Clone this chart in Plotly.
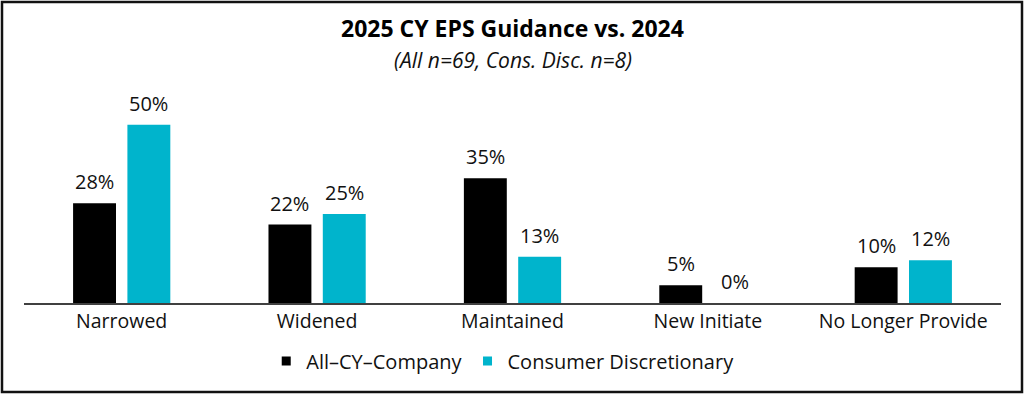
import plotly.graph_objects as go

categories = ["Narrowed", "Widened", "Maintained", "New Initiate", "No Longer Provide"]
all_cy = [28, 22, 35, 5, 10]
cons_disc = [50, 25, 13, 0, 12]
series_names = ["All–CY–Company", "Consumer Discretionary"]
series_colors = ["#000000", "#00B4CC"]
title_text = "<b>2025 CY EPS Guidance vs. 2024</b>"
subtitle_text = "<i>(All n=69, Cons. Disc. n=8)</i>"

W, H = 1024, 394
ML, MR, MT, MB = 24, 23, 107, 91
FONT = "'Open Sans', sans-serif"
pw = W - ML - MR
ph = H - MT - MB
BARGAP = 0.444
cat_px = pw / len(categories)
slot_px = cat_px * (1 - BARGAP) / 2

def py(px_from_top):
    return (H - MB - px_from_top) / ph

fig = go.Figure()
annotations = []
for i, (name, vals, col) in enumerate(zip(series_names, [all_cy, cons_disc], series_colors)):
    fig.add_trace(go.Bar(
        x=categories, y=vals, name=name, showlegend=False,
        marker=dict(color=col, line=dict(width=0)),
    ))
    xs = (i - 0.5) * slot_px
    for c, v in zip(categories, vals):
        annotations.append(dict(
            x=c, y=v, xref="x", yref="y", text=f"{v}%", showarrow=False,
            xanchor="center", yanchor="bottom", xshift=xs, yshift=6,
            font=dict(size=20, color="#111111"),
        ))
# legend entries with small square markers
for name, col in zip(series_names, series_colors):
    fig.add_trace(go.Scatter(
        x=[None], y=[None], mode="markers", name=name,
        marker=dict(symbol="square", size=9, color=col),
    ))

annotations += [
    dict(text=title_text, xref="paper", yref="paper", x=0.5, y=py(28),
         xanchor="center", yanchor="middle", showarrow=False,
         font=dict(size=23, color="#000000")),
    dict(text=subtitle_text, xref="paper", yref="paper", x=0.5, y=py(60),
         xanchor="center", yanchor="middle", showarrow=False,
         font=dict(size=21, color="#111111")),
]

fig.update_layout(
    width=W, height=H,
    margin=dict(l=ML, r=MR, t=MT, b=MB, autoexpand=False),
    paper_bgcolor="white", plot_bgcolor="white",
    font=dict(family=FONT, size=19.5, color="#111111"),
    barmode="group", bargap=BARGAP, bargroupgap=0.21,
    showlegend=True,
    legend=dict(orientation="h", x=0.49, xanchor="center", y=py(361), yanchor="middle",
                font=dict(size=20), itemwidth=30, traceorder="normal",
                bgcolor="rgba(0,0,0,0)"),
    xaxis=dict(showline=True, linecolor="#404040", linewidth=1.5, ticks="",
               tickfont=dict(size=19.5), showgrid=False, fixedrange=True),
    yaxis=dict(visible=False, range=[0, 55], showgrid=False, zeroline=False, fixedrange=True),
    annotations=annotations,
    shapes=[dict(type="rect", xref="paper", yref="paper",
                 x0=-(ML - 2) / pw, x1=1 + (MR - 2) / pw,
                 y0=py(H - 2), y1=py(2),
                 line=dict(color="#111111", width=2.5), fillcolor="rgba(0,0,0,0)")],
)
fig.write_html("out.html", config={"displayModeBar": False},
               post_script="document.body.style.margin='0';document.body.style.overflow='hidden';")
